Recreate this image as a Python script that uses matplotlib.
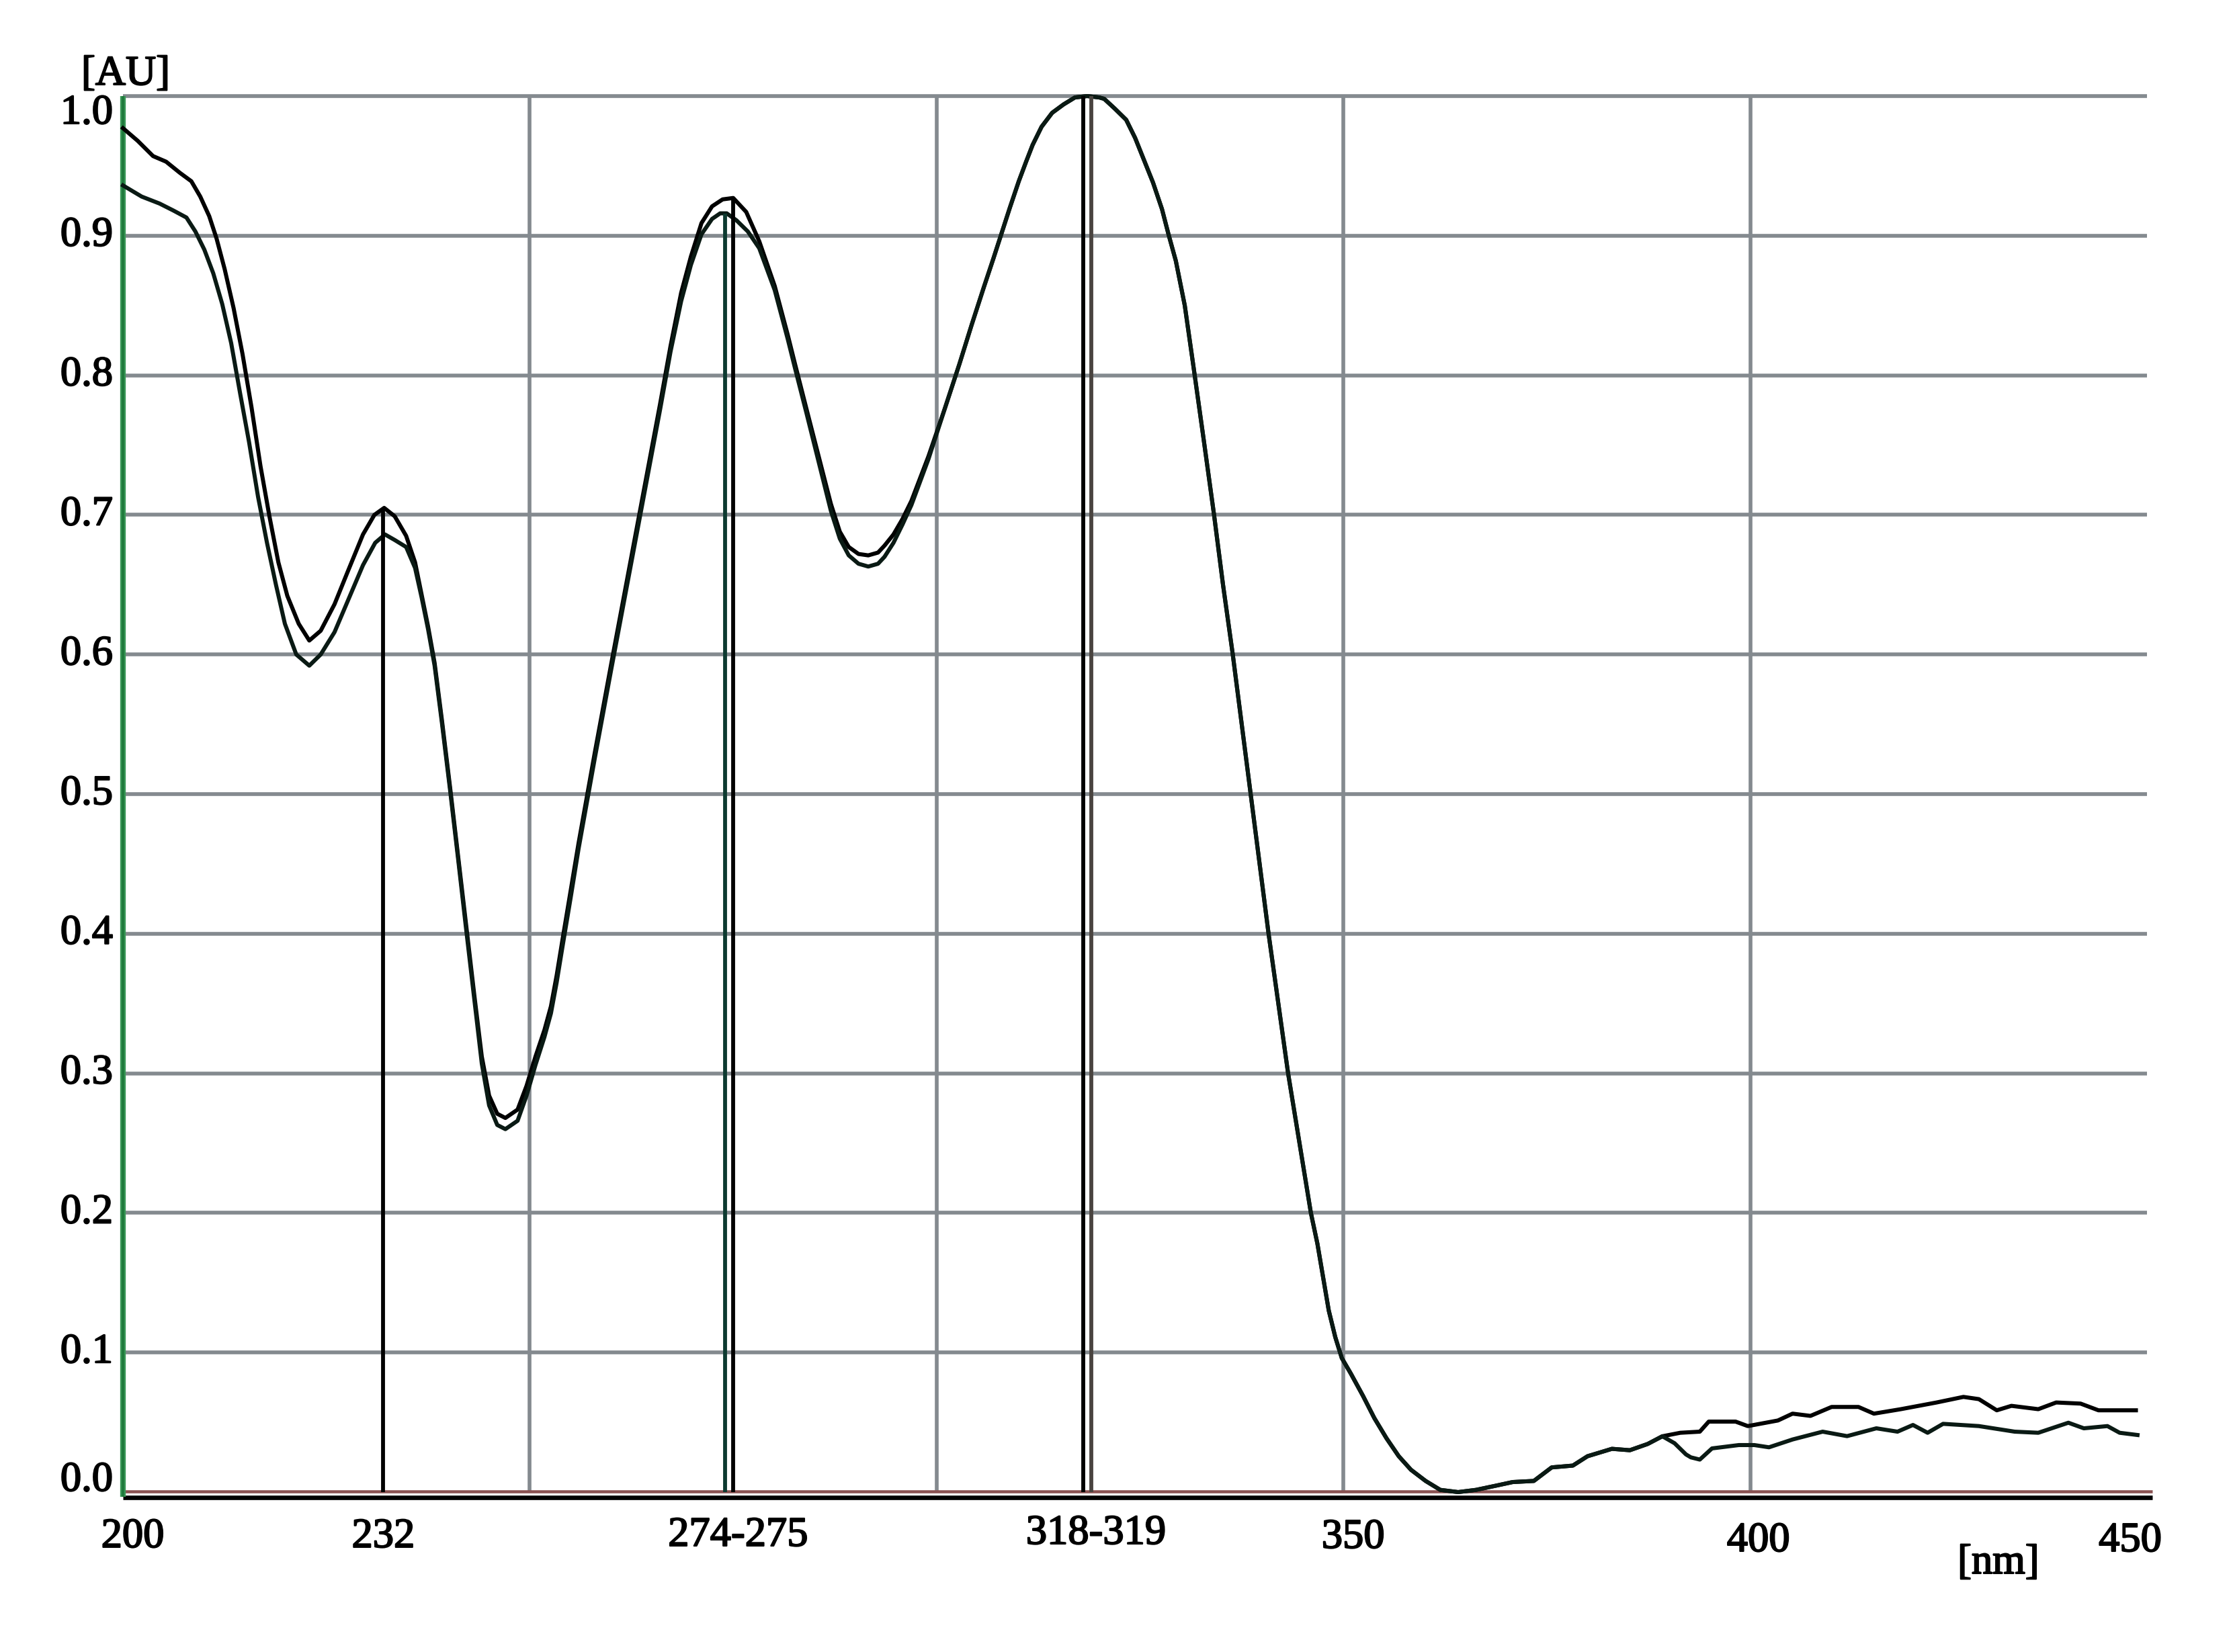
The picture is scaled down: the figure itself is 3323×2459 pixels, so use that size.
import matplotlib
matplotlib.use("Agg")
import matplotlib.pyplot as plt
import matplotlib.patheffects as pe

# ---------------- data ----------------
wl_a_head = [200.0, 201.8, 203.7, 205.3, 207.0, 208.4, 209.5, 210.6, 211.5, 212.5, 213.6, 214.7,
             215.8, 216.9, 218.0, 219.1, 220.2, 221.6, 222.9, 224.3, 226.0, 227.6, 229.5, 230.9,
             232.1, 233.4, 234.8, 235.9, 236.7, 237.5, 238.3, 239.2, 240.2, 241.2, 242.2, 243.2,
             244.1, 245.0, 246.0, 247.0, 248.5, 249.6, 250.7, 251.8, 252.6, 253.3, 254.0, 255.0,
             256.0, 258.0, 260.0, 262.0, 264.0, 266.0, 267.3, 268.6, 269.8, 271.1, 272.4, 273.7,
             275.0, 276.6, 278.2, 280.1, 281.7, 282.6, 284.0, 285.5, 287.0, 288.1, 289.2, 290.4,
             291.6, 292.8, 293.6, 294.7, 295.8, 296.9, 299.0]
abs_a_head = [0.977, 0.968, 0.957, 0.953, 0.945, 0.939, 0.928, 0.914, 0.898, 0.876, 0.848, 0.815,
              0.777, 0.735, 0.699, 0.666, 0.642, 0.622, 0.610, 0.617, 0.636, 0.659, 0.686, 0.700,
              0.705, 0.699, 0.685, 0.666, 0.643, 0.620, 0.594, 0.553, 0.505, 0.455, 0.405, 0.355,
              0.312, 0.284, 0.271, 0.268, 0.274, 0.291, 0.312, 0.331, 0.348, 0.370, 0.395, 0.430,
              0.465, 0.530, 0.593, 0.655, 0.717, 0.779, 0.821, 0.859, 0.885, 0.909, 0.921, 0.926,
              0.927, 0.917, 0.896, 0.864, 0.829, 0.808, 0.776, 0.742, 0.708, 0.688, 0.677, 0.672,
              0.671, 0.673, 0.678, 0.686, 0.697, 0.710, 0.742]

wl_b_head = [200.0, 202.3, 204.5, 206.2, 207.8, 208.9, 210.0, 211.1, 212.2, 213.3, 214.4, 215.5,
             216.6, 217.7, 218.8, 219.9, 221.3, 222.9, 224.3, 226.0, 227.6, 229.5, 231.0, 232.2,
             233.4, 234.8, 235.9, 236.7, 237.5, 238.3, 239.2, 240.2, 241.2, 242.2, 243.2, 244.1,
             245.0, 246.0, 247.0, 248.5, 249.6, 250.7, 251.8, 252.6, 253.3, 254.0, 255.0, 256.0,
             258.0, 260.0, 262.0, 264.0, 266.0, 267.3, 268.6, 269.8, 271.1, 272.4, 273.4, 274.2,
             275.4, 276.8, 278.2, 280.1, 281.7, 282.6, 284.0, 285.5, 287.0, 288.1, 289.2, 290.4,
             291.6, 292.8, 293.6, 294.7, 295.8, 296.9, 299.0]
abs_b_head = [0.936, 0.928, 0.923, 0.918, 0.913, 0.903, 0.890, 0.873, 0.851, 0.823, 0.787, 0.752,
              0.713, 0.680, 0.650, 0.622, 0.600, 0.592, 0.600, 0.616, 0.638, 0.664, 0.680, 0.686,
              0.682, 0.677, 0.662, 0.641, 0.618, 0.592, 0.551, 0.503, 0.453, 0.402, 0.352, 0.307,
              0.277, 0.263, 0.260, 0.266, 0.284, 0.306, 0.326, 0.343, 0.365, 0.390, 0.425, 0.461,
              0.526, 0.589, 0.651, 0.713, 0.775, 0.817, 0.853, 0.879, 0.901, 0.912, 0.916, 0.916,
              0.911, 0.903, 0.891, 0.861, 0.826, 0.805, 0.773, 0.738, 0.703, 0.683, 0.671, 0.665,
              0.663, 0.665, 0.670, 0.680, 0.693, 0.707, 0.740]

wl_common = [301.0, 302.8, 304.3, 305.8, 307.0, 308.0, 309.0, 310.1, 311.0, 311.8, 312.9, 314.2,
             315.6, 317.0, 318.5, 320.0, 320.6, 321.9, 323.3, 324.4, 325.5, 326.6, 327.7, 328.5,
             329.4, 330.5, 331.6, 332.8, 334.1, 335.2, 336.4, 337.5, 338.6, 339.7, 340.8, 342.0,
             343.2, 344.6, 346.0, 346.8, 347.5, 348.2, 349.0, 349.8, 350.9, 352.4, 353.8, 355.3,
             356.8, 358.3, 360.1, 361.9, 364.1, 366.3, 368.9, 370.8, 373.4, 375.6, 378.2, 380.0,
             383.0, 385.2, 387.4, 389.2]
abs_common = [0.776, 0.808, 0.836, 0.863, 0.884, 0.902, 0.920, 0.939, 0.953, 0.965, 0.978, 0.988,
              0.994, 0.999, 1.000, 0.999, 0.998, 0.991, 0.983, 0.970, 0.954, 0.938, 0.919, 0.901,
              0.882, 0.850, 0.805, 0.755, 0.700, 0.650, 0.600, 0.550, 0.500, 0.450, 0.400, 0.350,
              0.300, 0.250, 0.200, 0.178, 0.154, 0.130, 0.111, 0.096, 0.085, 0.069, 0.053, 0.0385,
              0.0257, 0.016, 0.008, 0.0016, 0.000, 0.0016, 0.0048, 0.0072, 0.008, 0.0177, 0.019, 0.0257,
              0.031, 0.030, 0.0345, 0.040]

wl_a_tail = [391.4, 393.8, 394.9, 398.2, 399.7, 403.4, 405.2, 407.4, 410.0, 413.3, 415.2, 418.5,
             422.9, 426.2, 428.1, 430.3, 432.1, 435.4, 437.6, 440.6, 442.8, 447.4]
abs_a_tail = [0.0425, 0.0433, 0.0505, 0.0505, 0.0473, 0.0513, 0.0562, 0.0546, 0.0610, 0.0610, 0.0562, 0.0594,
              0.0642, 0.0682, 0.0666, 0.0586, 0.0618, 0.0594, 0.0642, 0.0634, 0.0586, 0.0586]

wl_b_tail = [390.7, 392.1, 392.7, 393.8, 395.3, 398.6, 400.5, 402.3, 405.2, 408.9, 411.9, 415.5,
             418.1, 420.0, 421.8, 423.7, 428.1, 432.5, 435.4, 439.1, 441.0, 443.9, 445.4, 447.6]
abs_b_tail = [0.0350, 0.0270, 0.0249, 0.0233, 0.0313, 0.0337, 0.0337, 0.0321, 0.0377, 0.0433, 0.0401, 0.0457,
              0.0433, 0.0481, 0.0425, 0.0489, 0.0473, 0.0433, 0.0425, 0.0497, 0.0457, 0.0473, 0.0425, 0.0409]

peak_wl = [232, 274, 275, 318, 319]
peak_abs = [0.705, 0.916, 0.927, 1.0, 1.0]

x_tick_labels = ["200", "232", "274-275", "318-319", "350", "400", "450"]
y_tick_values = [0.0, 0.1, 0.2, 0.3, 0.4, 0.5, 0.6, 0.7, 0.8, 0.9, 1.0]
y_tick_labels = ["0.0", "0.1", "0.2", "0.3", "0.4", "0.5", "0.6", "0.7", "0.8", "0.9", "1.0"]
grid_x = [250, 300, 350, 400]

# ---------------- layout / style ----------------
W, H, DPI = 3323, 2459, 300
FONT = "Liberation Serif"
FS = 15
TXT_FX = [pe.withStroke(linewidth=0.5, foreground="black")]

fig = plt.figure(figsize=(W / DPI, H / DPI), dpi=DPI)
x0_px, x1_px = 183, 3210
ytop_px, ybot_px = 143, 2221
ax = fig.add_axes([x0_px / W, 1 - ybot_px / H, (x1_px - x0_px) / W, (ybot_px - ytop_px) / H])
ax.set_xlim(200, 450)
ax.set_ylim(0, 1.0)
ax.axis("off")

grid_col = "#848a8f"
grid_lw = 1.35
grid_right = 448.8
for yv in y_tick_values[1:]:
    ax.plot([200, grid_right], [yv, yv], color=grid_col, lw=grid_lw, zorder=1, clip_on=False,
            solid_capstyle="butt")
for xv in grid_x:
    ax.plot([xv, xv], [0, 1.0], color=grid_col, lw=grid_lw, zorder=1, clip_on=False,
            solid_capstyle="butt")

# axes lines
ax.plot([200, 449.4], [-0.0038, -0.0038], color="black", lw=1.6, zorder=5, clip_on=False,
        solid_capstyle="butt")
ax.plot([200, 449.4], [0.0006, 0.0006], color="#8a5252", lw=1.1, zorder=4, clip_on=False,
        solid_capstyle="butt")
ax.plot([200, 200], [-0.0035, 1.0], color="#3a9858", lw=2.0, zorder=5, clip_on=False,
        solid_capstyle="butt")
ax.plot([200, 200], [-0.0035, 1.0], color="#1f7a3c", lw=0.9, zorder=5, clip_on=False,
        solid_capstyle="butt")

# curves
wl_a = wl_a_head + wl_common + wl_a_tail
abs_a = abs_a_head + abs_common + abs_a_tail
wl_b = wl_b_head + wl_common + wl_b_tail
abs_b = abs_b_head + abs_common + abs_b_tail
ax.plot(wl_a, abs_a, color="black", lw=1.45, zorder=6, clip_on=False, solid_joinstyle="round")
ax.plot(wl_b, abs_b, color="#0a1a14", lw=1.45, zorder=6, clip_on=False, solid_joinstyle="round")

# peak marker lines
marker_cols = ["black", "#0c3a30", "black", "black", "#4a4440"]
for wl, ab, col in zip(peak_wl, peak_abs, marker_cols):
    ax.plot([wl, wl], [0, ab], color=col, lw=1.4, zorder=7, clip_on=False, solid_capstyle="butt")

# y tick labels
px_per_nm = (x1_px - x0_px) / 250.0
px_per_unit = (ybot_px - ytop_px) / 1.0
ylab_x = 200 - 15 / px_per_nm
for yv, lab in zip(y_tick_values, y_tick_labels):
    yy = yv
    if yv == 1.0:
        yy = 1.0 - 26 / px_per_unit
    elif yv == 0.0:
        yy = 0.0 + 17 / px_per_unit
    ax.text(ylab_x, yy, lab, ha="right", va="center", fontsize=FS, family=FONT, color="black",
            clip_on=False, path_effects=TXT_FX)

# x tick labels
xlab_pos = [201.2, 232.0, 275.6, 319.6, 351.2, 401.0, 446.7]
xlab_dy = [67, 67, 65, 62, 68, 73, 73]
for xp, lab, dy in zip(xlab_pos, x_tick_labels, xlab_dy):
    ax.text(xp, -dy / px_per_unit, lab, ha="center", va="center", fontsize=FS, family=FONT,
            color="black", clip_on=False, path_effects=TXT_FX)

# axis unit labels
ax.text(200 + 4 / px_per_nm, 1.0 + 32 / px_per_unit, "[AU]", ha="center", va="center",
        fontsize=FS, family=FONT, color="black", clip_on=False, path_effects=TXT_FX)
ax.text(430.5, -106 / px_per_unit, "[nm]", ha="center", va="center", fontsize=FS, family=FONT,
        color="black", clip_on=False, path_effects=TXT_FX)

fig.savefig("out.png", dpi=DPI, facecolor="white")
